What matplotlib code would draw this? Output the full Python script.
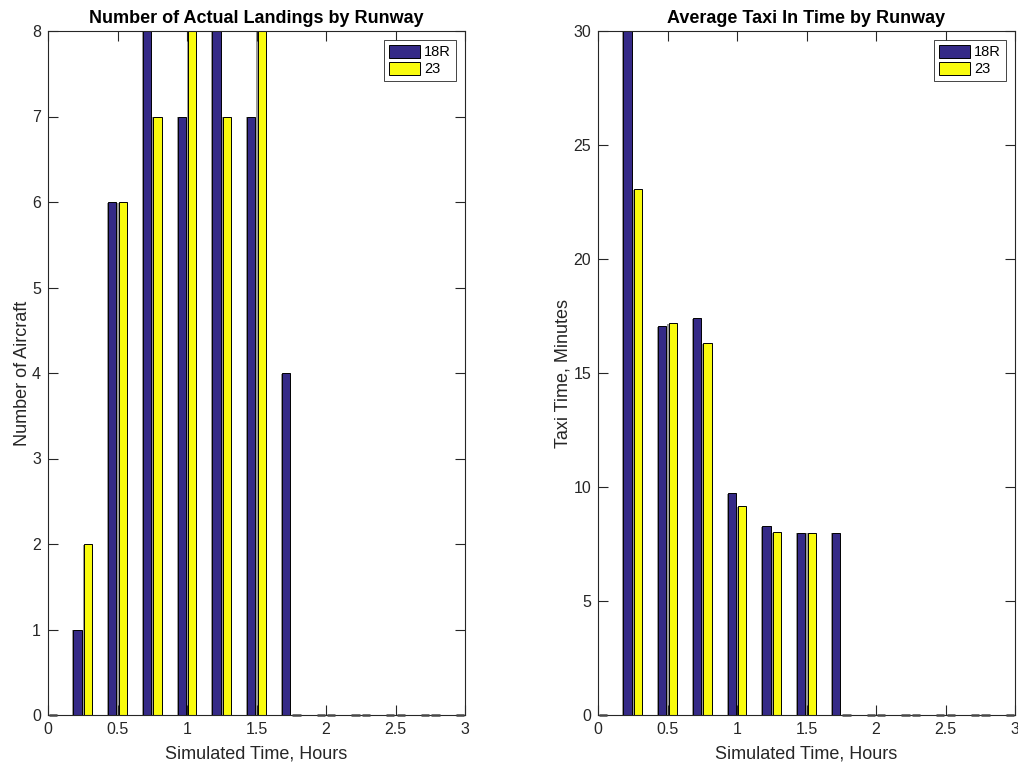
import numpy as np
import matplotlib
matplotlib.use('Agg')
import matplotlib.pyplot as plt
import matplotlib.patheffects as pe
from matplotlib.patches import Patch

plt.rcParams['font.family'] = ['Liberation Sans', 'DejaVu Sans']

# simulated time bins (hours)
hours = [0, 0.25, 0.5, 0.75, 1.0, 1.25, 1.5, 1.75, 2.0, 2.25, 2.5, 2.75, 3.0]
runways = ['18R', '23']

# landings per bin
landings_18r = [0, 1, 6, 8, 7, 8, 7, 4, 0, 0, 0, 0, 0]
landings_23 = [0, 2, 6, 7, 8, 7, 8, 0, 0, 0, 0, 0, 0]

# average taxi-in time per bin (minutes)
taxi_18r = [0, 30, 17.05, 17.4, 9.75, 8.3, 8.0, 8.0, 0, 0, 0, 0, 0]
taxi_23 = [0, 23.05, 17.2, 16.3, 9.15, 8.03, 8.0, 0, 0, 0, 0, 0, 0]

blue = '#352a87'
yellow = '#f9fb0e'
txt = '#262626'

fig = plt.figure(figsize=(10.18, 7.65), dpi=100)
ax1 = fig.add_axes([48/1018, 50/765, 417/1018, 684/765])
ax2 = fig.add_axes([598/1018, 50/765, 417/1018, 684/765])

shadow = [pe.SimplePatchShadow(offset=(-0.8, -0.6), shadow_rgbFace='#9a9a9a', alpha=1.0), pe.Normal()]


def grouped(ax, a, b, ymax, ystep, title, ylabel):
    x = np.array(hours)
    w = 0.06
    bars_a = ax.bar(x - 0.0375, a, w, color=blue, edgecolor='black', linewidth=0.7)
    bars_b = ax.bar(x + 0.0375, b, w, color=yellow, edgecolor='black', linewidth=0.7)
    for p in list(bars_a) + list(bars_b):
        p.set_path_effects(shadow)
        x0 = p.get_x()
        if x0 >= 0 and x0 + p.get_width() <= 3:
            p.set_clip_on(False)
        else:
            p.set_visible(False)
        if p.get_height() == 0:
            # empty bins show as short dashes on the baseline
            p.set_linewidth(1.8)
            p.set_edgecolor('#4a4a4a')
            p.set_zorder(3)
    ax.set_xlim(0, 3)
    ax.set_ylim(0, ymax)
    ax.set_xticks(np.arange(0, 3.01, 0.5))
    ax.set_xticklabels(['0', '0.5', '1', '1.5', '2', '2.5', '3'])
    ax.set_yticks(np.arange(0, ymax + 0.01, ystep))
    ax.tick_params(direction='in', length=7, width=0.8, top=True, right=True,
                   labelsize=11.5, colors=txt, labelcolor=txt, pad=5)
    for s in ax.spines.values():
        s.set_linewidth(0.8)
        s.set_color(txt)
    ax.set_title(title, fontsize=13, fontweight='bold', pad=6)
    ax.set_xlabel('Simulated Time, Hours', fontsize=13, color=txt, labelpad=6)
    ax.set_ylabel(ylabel, fontsize=13, color=txt, labelpad=1)
    handles = [Patch(facecolor=blue, edgecolor='black', linewidth=0.7),
               Patch(facecolor=yellow, edgecolor='black', linewidth=0.7)]
    leg = ax.legend(handles, runways, loc='upper right', fontsize=10.5,
                    fancybox=False, framealpha=1, edgecolor='#262626',
                    handlelength=2.1, handleheight=1.0, handletextpad=0.3,
                    borderpad=0.35, labelspacing=0.15, borderaxespad=0.6)
    leg.get_frame().set_linewidth(0.6)
    leg.set_zorder(5)


grouped(ax1, landings_18r, landings_23, 8, 1,
        'Number of Actual Landings by Runway', 'Number of Aircraft')
grouped(ax2, taxi_18r, taxi_23, 30, 5,
        'Average Taxi In Time by Runway', 'Taxi Time, Minutes')

fig.savefig('out.png', dpi=100)
